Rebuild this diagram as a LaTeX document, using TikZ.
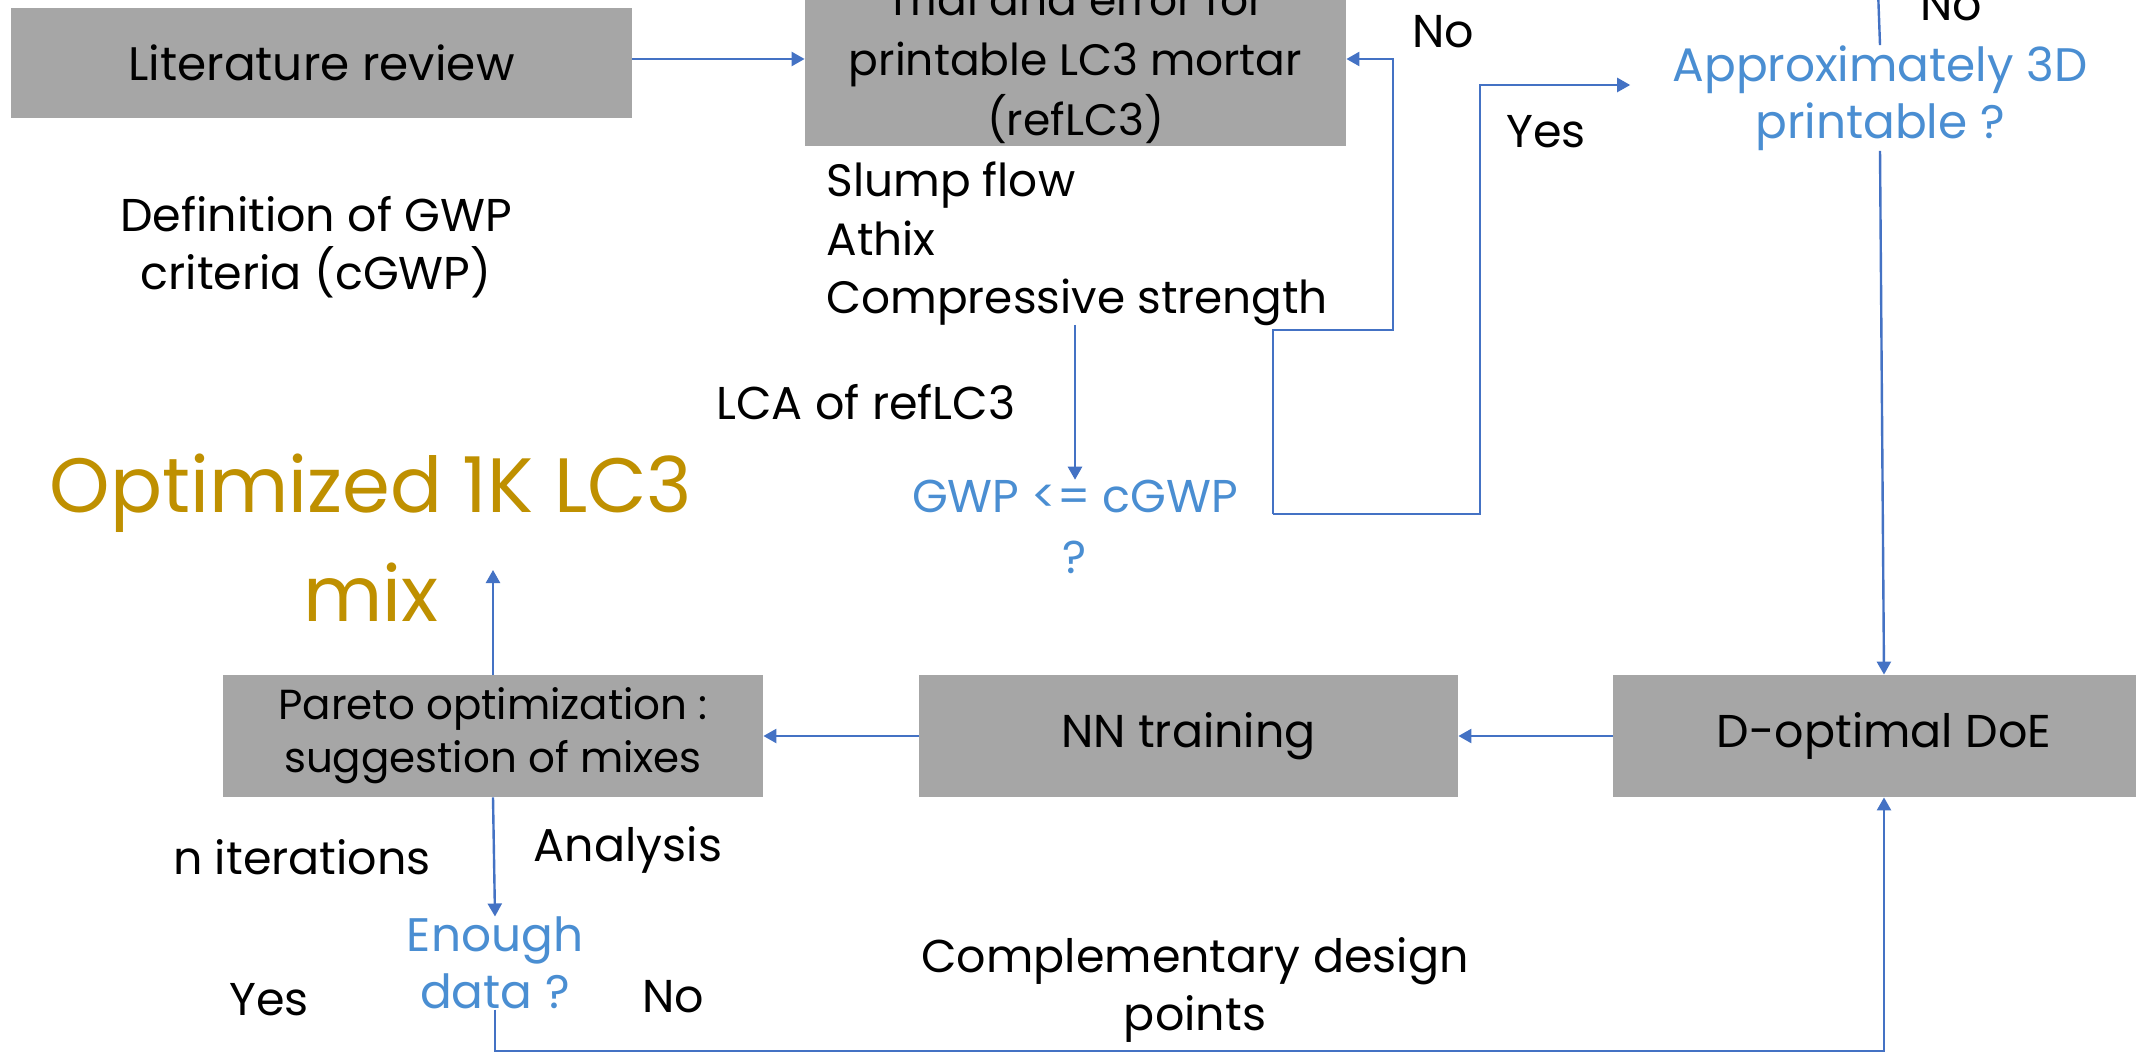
\documentclass[tikz,border=0pt]{standalone}
\usepackage{fontspec}
\setmainfont{Poppins}
\usetikzlibrary{arrows.meta}
\definecolor{boxgray}{HTML}{A6A6A6}
\definecolor{lineblue}{HTML}{4472C4}
\definecolor{qblue}{HTML}{4A8ED2}
\definecolor{goldtxt}{HTML}{BF9000}
\begin{document}
\begin{tikzpicture}[x=0.5pt,y=-0.5pt,
  box/.style={fill=boxgray,draw=none,inner sep=0pt,align=center,text=black},
  txt/.style={inner sep=0pt,align=center,text=black,font=\fontsize{23}{29}\selectfont},
  qtxt/.style={inner sep=0pt,align=center,text=qblue,font=\fontsize{23.5}{28.5}\selectfont},
  conn/.style={draw=lineblue,line width=1.2pt},
  arr/.style={conn,-{Triangle[length=6.5pt,width=7pt]}}]
\useasboundingbox (0,0) rectangle (2136,1053);
\clip (0,0) rectangle (2136,1053);
\fill[white] (0,0) rectangle (2136,1053);
% boxes
\node[box,minimum width=310.5pt,minimum height=55pt,font=\fontsize{23.5}{29}\selectfont] (lit) at (321.5,63) {Literature review};
\node[box,minimum width=270.5pt,minimum height=83pt,font=\fontsize{22}{30}\selectfont] (trial) at (1075.5,63) {Trial and error for\\printable LC3 mortar\\(refLC3)};
\node[box,minimum width=270pt,minimum height=61pt,font=\fontsize{21}{26.5}\selectfont] (pareto) at (493,736) {Pareto optimization :\\suggestion of mixes};
\node[box,minimum width=269.5pt,minimum height=61pt,font=\fontsize{23}{29}\selectfont] (nn) at (1188.5,736) {NN training};
\node[box,minimum width=271pt,minimum height=61pt,font=\fontsize{23}{29}\selectfont] (dopt) at (1884,736) {D-optimal DoE};
% texts
\node[txt] (def) at (316,247) {Definition of GWP\\criteria (cGWP)};
\node[txt,align=left,anchor=west,font=\fontsize{22.7}{29.3}\selectfont] (slump) at (826,244) {Slump flow\\Athix\\Compressive strength};
\node[txt] (lca) at (866,402) {LCA of refLC3};
\node[qtxt,font=\fontsize{23}{30.5}\selectfont] (gwp) at (1075,527) {GWP <= cGWP\\?};
\node[txt] (no1) at (1443,32) {No};
\node[txt] (yes1) at (1546,132) {Yes};
\node[qtxt] (approx) at (1880,98) {Approximately 3D\\printable ?};
\node[txt] (no2) at (1951,5) {No};
\node[inner sep=0pt,align=center,text=goldtxt,font=\fontsize{38.5}{54.5}\selectfont] (opt) at (371,538) {Optimized 1K LC3\\mix};
\node[txt] (niter) at (302,857) {n iterations};
\node[txt] (analysis) at (628,850) {Analysis};
\node[qtxt] (enough) at (495,963) {Enough\\data ?};
\node[txt] (yes2) at (269,1000) {Yes};
\node[txt] (no3) at (673,997) {No};
\node[txt] (compl) at (1195,990) {Complementary design\\points};
% coordinates
\coordinate (g) at (1273,514);
\coordinate (yy) at (0,85);
\coordinate (topin) at (1878,-10);
\coordinate (optin) at (493,570);
% connectors
\draw[arr] ([yshift=2pt]lit.east) -- ([yshift=2pt]trial.west);
\draw[arr] (gwp.north |- 0,325) -- (gwp.north);
\draw[arr] (g) -- (1273,330) -- (1393,330) |- ([yshift=2pt]trial.east);
\draw[arr] (g) -- (1480,514) -- (1480,85) -- ([xshift=-21pt]approx.west |- yy);
\draw[conn] (topin) -- (approx.north);
\draw[arr] (approx.south) -- (dopt.north);
\draw[arr] (dopt.west) -- (nn.east);
\draw[arr] (nn.west) -- (pareto.east);
\draw[arr] (pareto.north) -- (optin);
\draw[arr] (pareto.south) -- (enough.north);
\draw[arr] (enough.south) -- (495,1051) -| (dopt.south);
\end{tikzpicture}
\end{document}
